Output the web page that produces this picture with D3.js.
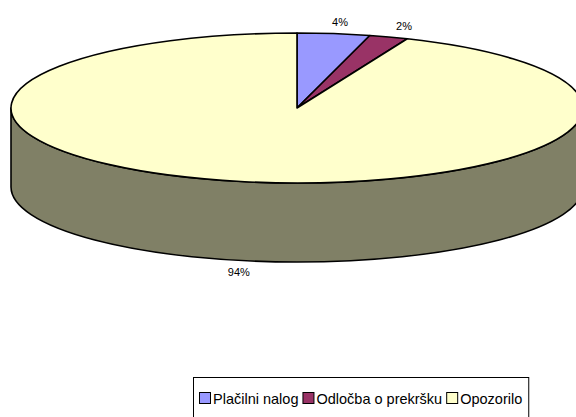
<!DOCTYPE html>
<html>
<head>
<meta charset="utf-8">
<script src="https://cdn.jsdelivr.net/npm/d3@7"></script>
<style>
  body { margin: 0; background: #fff; }
  svg { display: block; font-family: "Liberation Sans", Arial, sans-serif; }
</style>
</head>
<body>
<svg id="chart"></svg>
<script>
const width = 576
const height = 417

// data
const categories = ['Plačilni nalog', 'Odločba o prekršku', 'Opozorilo']
const values = [4.1, 2.2, 93.7]
const colours = ['#9999FF', '#993366', '#FFFFCC']
const sideColours = ['#4d4d80', '#4d1a33', '#808066']

const cx = 297, cy = 108
const rx = 286, ry = 75
const depth = 79

const svg = d3.select('#chart')
    .attr('width', width)
    .attr('height', height)
    .attr('viewBox', [0, 0, width, height])

const colour = d3.scaleOrdinal().domain(categories).range(colours)
const side = d3.scaleOrdinal().domain(categories).range(sideColours)

const pie = d3.pie().sort(null).value(d => d.value)
const data = categories.map((c, i) => ({name: c, value: values[i]}))
const arcs = pie(data)
const total = d3.sum(values)

// angle 0 = 12 o'clock, clockwise
function pt(a, dy) {
    return [cx + rx * Math.sin(a), cy - ry * Math.cos(a) + (dy || 0)]
}

function topPath(d) {
    const p0 = pt(d.startAngle), p1 = pt(d.endAngle)
    const large = d.endAngle - d.startAngle > Math.PI ? 1 : 0
    return `M${cx},${cy}L${p0}A${rx},${ry} 0 ${large} 1 ${p1}Z`
}

function wallPath(d) {
    // only the front half (pi/2 .. 3pi/2) of the rim is visible
    const a0 = Math.max(d.startAngle, Math.PI / 2)
    const a1 = Math.min(d.endAngle, 3 * Math.PI / 2)
    if (a1 <= a0) return null
    const p0 = pt(a0), p1 = pt(a1), q1 = pt(a1, depth), q0 = pt(a0, depth)
    return `M${p0}A${rx},${ry} 0 0 1 ${p1}L${q1}A${rx},${ry} 0 0 0 ${q0}Z`
}

const g = svg.append('g')

g.selectAll('path.wall')
    .data(arcs.filter(d => wallPath(d)))
    .join('path')
    .attr('class', 'wall')
    .attr('d', wallPath)
    .attr('fill', d => side(d.data.name))
    .attr('stroke', '#000')
    .attr('stroke-width', 1.6)
    .attr('stroke-linejoin', 'round')

g.selectAll('path.top')
    .data(arcs)
    .join('path')
    .attr('class', 'top')
    .attr('d', topPath)
    .attr('fill', d => colour(d.data.name))
    .attr('stroke', '#000')
    .attr('stroke-width', 1.6)
    .attr('stroke-linejoin', 'round')

// percentage labels outside the rim
let labels = arcs.map(d => {
    const mid = (d.startAngle + d.endAngle) / 2
    const front = Math.cos(mid) < 0
    return {
        text: Math.round(d.value / total * 100) + '%',
        x: cx + (rx + 10) * Math.sin(mid) + (front ? 0 : 5),
        y: cy - (ry + 12) * Math.cos(mid) + (front ? depth : 0) + 4,
        front: front
    }
})
// push crowded back labels apart
for (let i = 1; i < labels.length; i++) {
    const prev = labels[i - 1]
    if (!labels[i].front && !prev.front && labels[i].x - prev.x < 64) {
        labels[i].x = prev.x + 64
    }
}

svg.selectAll('text.pct')
    .data(labels)
    .join('text')
    .attr('class', 'pct')
    .attr('x', d => d.x)
    .attr('y', d => d.y)
    .attr('text-anchor', 'middle')
    .attr('font-size', 11)
    .attr('fill', '#000')
    .text(d => d.text)

// legend
const legend = svg.append('g')
    .attr('transform', 'translate(193, 377)')

const box = legend.append('rect')
    .attr('x', 0.5)
    .attr('y', 0.5)
    .attr('height', 44)
    .attr('fill', '#fff')
    .attr('stroke', '#000')
    .attr('stroke-width', 1)

let lx = 6
categories.forEach((c, i) => {
    const item = legend.append('g').attr('transform', `translate(${lx}, 0)`)
    item.append('rect')
        .attr('x', 0.5)
        .attr('y', 15.5)
        .attr('width', 11)
        .attr('height', 11)
        .attr('fill', colour(c))
        .attr('stroke', '#000')
    const t = item.append('text')
        .attr('x', 14)
        .attr('y', 26.5)
        .attr('font-size', 14.5)
        .attr('fill', '#000')
        .text(c)
    lx += 14 + t.node().getComputedTextLength() + 4
})
box.attr('width', lx + 2)
</script>
</body>
</html>
